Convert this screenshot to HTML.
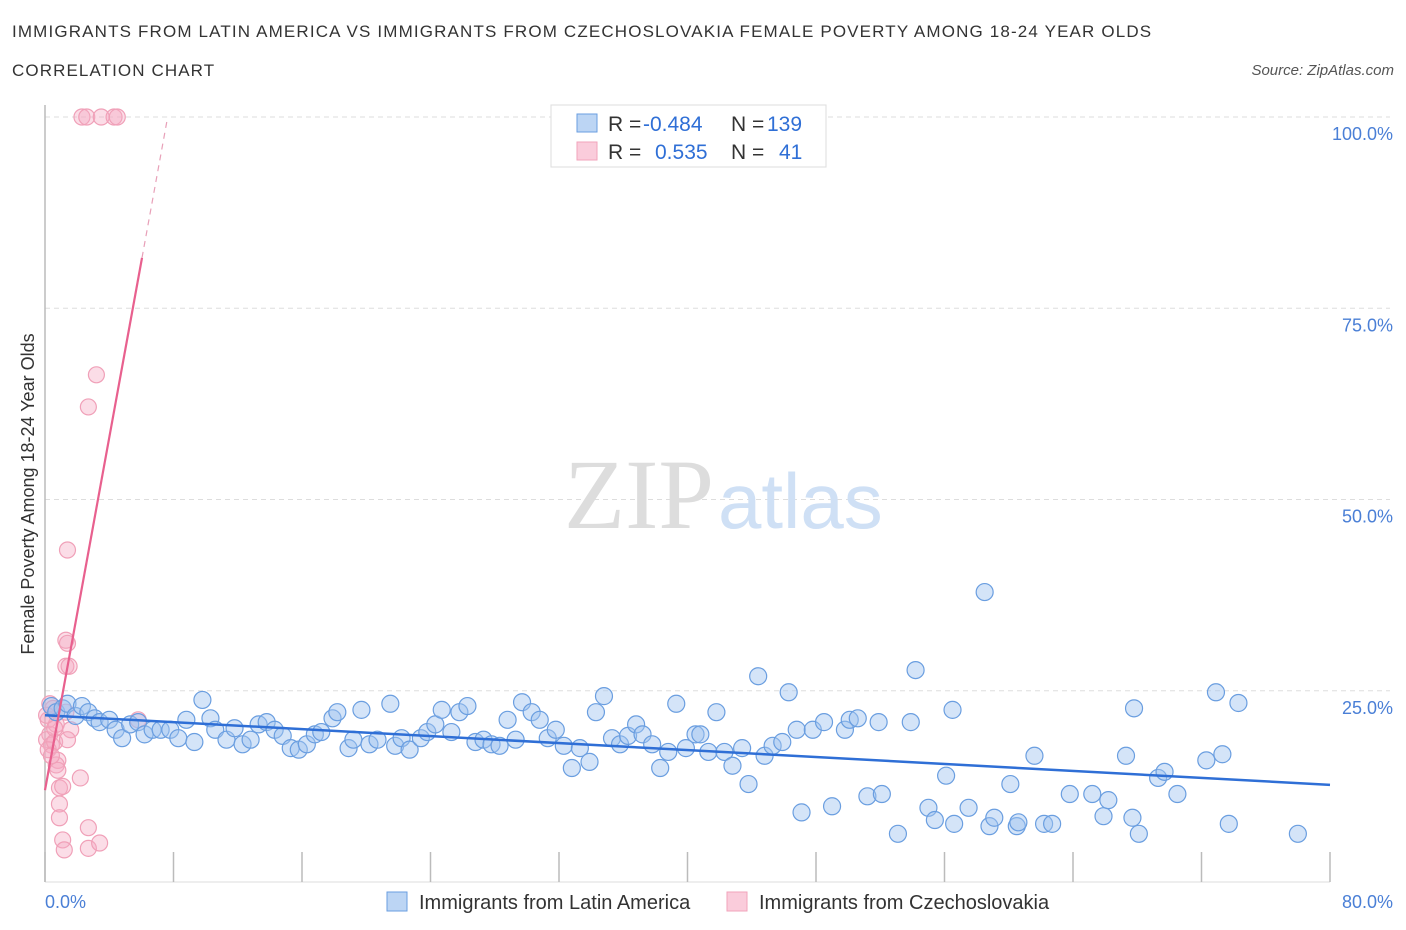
<!DOCTYPE html>
<html><head><meta charset="utf-8">
<style>
body{margin:0;background:#fff;font-family:"Liberation Sans",sans-serif;}
#wrap{position:relative;width:1406px;height:930px;overflow:hidden;}
.t{position:absolute;white-space:nowrap;}
</style></head>
<body>
<div id="wrap">
<div class="t" style="left:12px;top:22px;font-size:17px;letter-spacing:1.15px;color:#333;">IMMIGRANTS FROM LATIN AMERICA VS IMMIGRANTS FROM CZECHOSLOVAKIA FEMALE POVERTY AMONG 18-24 YEAR OLDS</div>
<div class="t" style="left:12px;top:61px;font-size:17px;letter-spacing:1.1px;color:#333;">CORRELATION CHART</div>
<div class="t" style="right:12px;top:62px;font-size:15px;color:#555;font-style:italic;">Source: ZipAtlas.com</div>
<svg id="svg" width="1406" height="930" style="position:absolute;left:0;top:0;"></svg>
</div>
<script>
const xTicks=[0,8,16,24,32,40,48,56,64,72,80];
const yTicks=[25,50,75,100];
const blueX=[0.4,0.7,1.1,1.4,1.9,2.3,2.7,3.1,3.4,4.0,4.4,4.8,5.3,5.8,6.2,6.7,7.2,7.8,8.3,8.8,9.3,9.8,10.3,10.6,11.3,11.8,12.3,12.8,13.3,13.8,14.3,14.8,15.3,15.8,16.3,16.8,17.2,17.9,18.2,18.9,19.2,19.7,20.2,20.7,21.5,21.8,22.2,22.7,23.4,23.8,24.3,24.7,25.3,25.8,26.3,26.8,27.3,27.8,28.3,28.8,29.3,29.7,30.3,30.8,31.3,31.8,32.3,32.8,33.3,33.9,34.3,34.8,35.3,35.8,36.3,36.8,37.2,37.8,38.3,38.8,39.3,39.9,40.5,40.8,41.3,41.8,42.3,42.8,43.4,43.8,44.4,44.8,45.3,45.9,46.3,46.8,47.1,47.8,48.5,49.0,49.8,50.1,50.6,51.2,51.9,52.1,53.1,53.9,54.2,55.0,55.4,56.1,56.5,56.6,57.5,58.5,58.8,59.1,60.1,60.5,60.6,61.6,62.2,62.7,63.8,65.2,65.9,66.2,67.3,67.7,67.8,68.1,69.3,69.7,70.5,72.3,72.9,73.3,73.7,74.3,78.0];
const blueY=[23.0,22.2,22.7,23.3,21.7,23.0,22.2,21.4,20.9,21.2,19.9,18.8,20.6,20.9,19.3,19.9,19.9,19.9,18.8,21.2,18.3,23.8,21.4,19.9,18.6,20.1,18.0,18.6,20.6,20.9,19.9,19.1,17.5,17.3,18.0,19.3,19.6,21.4,22.2,17.5,18.6,22.5,18.0,18.6,23.3,17.8,18.8,17.3,18.8,19.6,20.6,22.5,19.6,22.2,23.0,18.3,18.6,18.0,17.8,21.2,18.6,23.5,22.2,21.2,18.8,19.9,17.8,14.9,17.5,15.7,22.2,24.3,18.8,18.0,19.1,20.6,19.3,18.0,14.9,17.0,23.3,17.5,19.3,19.3,17.0,22.2,17.0,15.2,17.5,12.8,26.9,16.5,17.8,18.3,24.8,19.9,9.1,19.9,20.9,9.9,19.9,21.2,21.4,11.2,20.9,11.5,6.3,20.9,27.7,9.7,8.1,13.9,22.5,7.6,9.7,37.9,7.3,8.4,12.8,7.3,7.8,16.5,7.6,7.6,11.5,11.5,8.6,10.7,16.5,8.4,22.7,6.3,13.6,14.4,11.5,15.9,24.8,16.7,7.6,23.4,6.3];
const pinkX=[0.3,0.5,0.2,0.3,0.1,0.4,0.2,0.6,0.8,0.7,0.9,1.1,0.9,0.9,1.1,1.2,0.8,1.4,1.3,1.4,1.3,1.5,2.2,2.7,2.7,3.4,2.3,2.6,3.5,4.3,4.5,2.7,3.2,5.8,1.6,1.4,1.3,0.7,0.6,0.1,0.4];
const pinkY=[23.3,22.7,21.2,19.3,18.6,17.9,17.3,18.3,15.9,15.3,12.3,12.5,10.2,8.4,5.5,4.2,14.6,43.4,31.6,31.2,28.2,28.2,13.6,7.1,4.4,5.1,100,100,100,100,100,62.1,66.3,21.2,19.9,18.6,22.2,20.6,20.1,21.8,16.5];
const blueTrend=[21.8,12.7]; // y at x=0 and x=80
const pinkTrend=[12.0,81.6]; // y at x=0 and x=6.04

const X0=45,X1=1330,Y0=882,Y1=117;
const sx=v=>X0+(v/80)*(X1-X0);
const sy=v=>Y0-(v/100)*(Y0-Y1);
const NS='http://www.w3.org/2000/svg';
const svg=document.getElementById('svg');
function mk(t,a,p){const e=document.createElementNS(NS,t);for(const k in a)e.setAttribute(k,a[k]);(p||svg).appendChild(e);return e;}

yTicks.forEach(v=>{
  const g=mk('line',{x1:X0,x2:X1+60,y1:sy(v),y2:sy(v),stroke:'#ddd','stroke-dasharray':'5,4'});
  
  
  const t=mk('text',{x:1393,y:sy(v)+23,'text-anchor':'end','font-size':18,fill:'#4a7fd6','font-family':'Liberation Sans'});
  t.textContent=v.toFixed(1)+'%';
  
  
});
const ax=mk('line',{x1:X0,x2:X0,y1:105,y2:Y0,stroke:'#bbb','stroke-width':1.5});


const bx=mk('line',{x1:X0,x2:X1,y1:Y0,y2:Y0,stroke:'#ddd'});


xTicks.forEach(v=>{
  const l=mk('line',{x1:sx(v),x2:sx(v),y1:Y0-30,y2:Y0,stroke:'#bbb','stroke-width':1.5});
  
  
});
[[0,'start',45],[80,'end',1393]].forEach(([v,a,x])=>{
  const t=mk('text',{x:x,y:908,'text-anchor':a,'font-size':18,fill:'#4a7fd6','font-family':'Liberation Sans'});
  t.textContent=v.toFixed(1)+'%';
  
  
});
const w1=mk('text',{x:714,y:528,'text-anchor':'end','font-size':100,fill:'#ddd','font-family':'Liberation Serif'});
w1.textContent='ZIP';


const w2=mk('text',{x:718,y:528,'font-size':78,fill:'#cfe0f5','font-family':'Liberation Sans'});
w2.textContent='atlas';



pinkX.forEach((v,i)=>{
  const c=mk('circle',{cx:sx(v),cy:sy(pinkY[i]),r:8,fill:'rgba(246,170,195,0.4)',stroke:'#f0a0b8','stroke-width':1.2});
  
  
});
blueX.forEach((v,i)=>{
  const c=mk('circle',{cx:sx(v),cy:sy(blueY[i]),r:8.5,fill:'rgba(160,195,240,0.45)',stroke:'#6a9ee0','stroke-width':1.2});
  
  
});
const bt=mk('line',{x1:sx(0),y1:sy(blueTrend[0]),x2:sx(80),y2:sy(blueTrend[1]),stroke:'#2f6fd6','stroke-width':2.5});


const slope=(pinkTrend[1]-pinkTrend[0])/6.04;
const pt=mk('line',{x1:sx(0),y1:sy(pinkTrend[0]),x2:sx(6.04),y2:sy(pinkTrend[1]),stroke:'#e8608e','stroke-width':2.2});


const xe=(100-pinkTrend[0])/slope;
const pd=mk('line',{x1:sx(6.04),y1:sy(pinkTrend[1]),x2:sx(xe),y2:sy(100),stroke:'#e8a0b8','stroke-width':1.2,'stroke-dasharray':'6,5'});



const lg=mk('rect',{x:551,y:105,width:275,height:62,fill:'#fff',stroke:'#ddd'});


[[0,'rgba(160,195,240,0.7)','#6a9ee0','-0.484','139'],[1,'rgba(246,170,195,0.6)','#f2a3bb','0.535','41']].forEach(([i,f,s,r,n])=>{
  const y=114+i*28;
  const sw=mk('rect',{x:577,y:y,width:20,height:18,fill:f,stroke:s});
  
  
  const t=mk('text',{x:608,y:y+17,'font-size':21,fill:'#333','font-family':'Liberation Sans'});
  t.innerHTML='R = <tspan fill="#2f6fd6" x="'+(i?655:643)+'">'+r+'</tspan><tspan x="731" fill="#333">N =</tspan><tspan fill="#2f6fd6" x="'+(i?779:767)+'">'+n+'</tspan>';
  
  
});
[[387,'rgba(160,195,240,0.7)','#6a9ee0','Immigrants from Latin America'],[727,'rgba(246,170,195,0.6)','#f2a3bb','Immigrants from Czechoslovakia']].forEach(([x,f,s,l])=>{
  const sw=mk('rect',{x:x,y:892,width:20,height:19,fill:f,stroke:s});
  
  
  const t=mk('text',{x:x+32,y:909,'font-size':20,fill:'#333','font-family':'Liberation Sans'});
  t.textContent=l;
  
  
});
const yt=mk('text',{x:0,y:0,'font-size':18,fill:'#333','font-family':'Liberation Sans','text-anchor':'middle',transform:'translate(34,494) rotate(-90)'});
yt.textContent='Female Poverty Among 18-24 Year Olds';


</script>
</body></html>
